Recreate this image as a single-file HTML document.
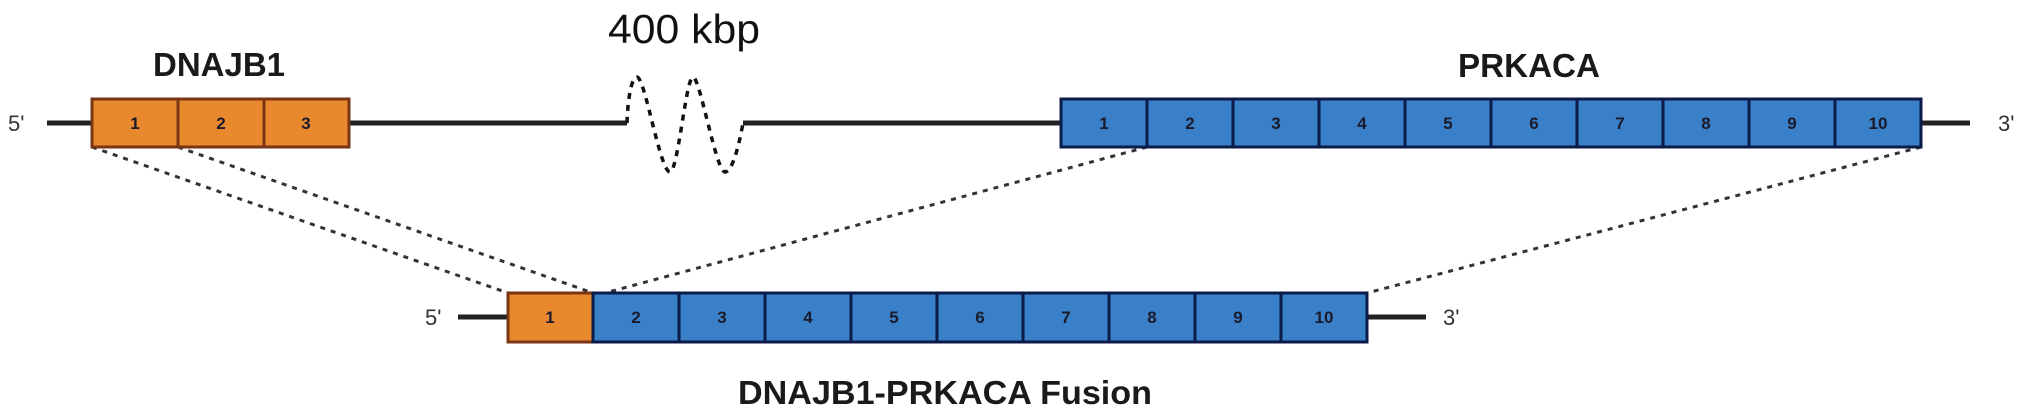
<!DOCTYPE html>
<html><head><meta charset="utf-8"><style>
html,body{margin:0;padding:0;background:#fff;width:2025px;height:416px;overflow:hidden}
svg{display:block}
.n{font-family:"Liberation Sans Narrow","Liberation Sans",sans-serif;font-size:17px;fill:#1a1a2a;text-anchor:middle;font-weight:bold}
.lbl{font-family:"Liberation Sans Narrow","Liberation Sans",sans-serif;font-weight:bold;font-size:33px;fill:#1a1a1a}
.end{font-family:"Liberation Sans",sans-serif;font-size:22px;fill:#333}
</style></head><body>
<svg width="2025" height="416" viewBox="0 0 2025 416" xmlns="http://www.w3.org/2000/svg">
<g stroke="#222" stroke-width="5" fill="none">
<line x1="47" y1="123" x2="92" y2="123"/>
<line x1="349" y1="123" x2="627" y2="123"/>
<line x1="743" y1="123" x2="1061" y2="123"/>
<line x1="1921" y1="123" x2="1970" y2="123"/>
<line x1="458" y1="317" x2="508" y2="317"/>
<line x1="1367" y1="317" x2="1426" y2="317"/>
</g>
<path d="M627,123 C628,95 632,77 637,77 C645,77 660,172 670,172 C678,172 686,77 693,77 C700,77 716,172 725,172 C733,172 740,140 743,123" stroke="#111" stroke-width="3.5" fill="none" stroke-dasharray="6,6"/>
<g stroke="#333" stroke-width="3" stroke-dasharray="5,6" fill="none">
<line x1="92" y1="147" x2="508" y2="293"/>
<line x1="178" y1="147" x2="593" y2="293"/>
<line x1="1147" y1="147" x2="605" y2="293"/>
<line x1="1921" y1="147" x2="1367" y2="293"/>
</g>
<!-- DNAJB1 -->
<g stroke="#7a3514" stroke-width="3" fill="#e8892e">
<rect x="92" y="99" width="86" height="48"/>
<rect x="178" y="99" width="86" height="48"/>
<rect x="264" y="99" width="85" height="48"/>
</g>
<text class="n" x="135" y="129">1</text><text class="n" x="221" y="129">2</text><text class="n" x="306" y="129">3</text>
<!-- PRKACA -->
<g stroke="#0d1b4a" stroke-width="3" fill="#3a80c8">
<rect x="1061" y="99" width="86" height="48"/><rect x="1147" y="99" width="86" height="48"/>
<rect x="1233" y="99" width="86" height="48"/><rect x="1319" y="99" width="86" height="48"/>
<rect x="1405" y="99" width="86" height="48"/><rect x="1491" y="99" width="86" height="48"/>
<rect x="1577" y="99" width="86" height="48"/><rect x="1663" y="99" width="86" height="48"/>
<rect x="1749" y="99" width="86" height="48"/><rect x="1835" y="99" width="86" height="48"/>
</g>
<g>
<text class="n" x="1104" y="129">1</text><text class="n" x="1190" y="129">2</text><text class="n" x="1276" y="129">3</text>
<text class="n" x="1362" y="129">4</text><text class="n" x="1448" y="129">5</text><text class="n" x="1534" y="129">6</text>
<text class="n" x="1620" y="129">7</text><text class="n" x="1706" y="129">8</text><text class="n" x="1792" y="129">9</text>
<text class="n" x="1878" y="129">10</text>
</g>
<!-- Fusion -->
<rect x="508" y="293" width="85" height="49" stroke="#7a3514" stroke-width="3" fill="#e8892e"/>
<g stroke="#0d1b4a" stroke-width="3" fill="#3a80c8">
<rect x="593" y="293" width="86" height="49"/><rect x="679" y="293" width="86" height="49"/>
<rect x="765" y="293" width="86" height="49"/><rect x="851" y="293" width="86" height="49"/>
<rect x="937" y="293" width="86" height="49"/><rect x="1023" y="293" width="86" height="49"/>
<rect x="1109" y="293" width="86" height="49"/><rect x="1195" y="293" width="86" height="49"/>
<rect x="1281" y="293" width="86" height="49"/>
</g>
<g>
<text class="n" x="550" y="323">1</text><text class="n" x="636" y="323">2</text><text class="n" x="722" y="323">3</text>
<text class="n" x="808" y="323">4</text><text class="n" x="894" y="323">5</text><text class="n" x="980" y="323">6</text>
<text class="n" x="1066" y="323">7</text><text class="n" x="1152" y="323">8</text><text class="n" x="1238" y="323">9</text>
<text class="n" x="1324" y="323">10</text>
</g>
<text class="end" x="8" y="131">5'</text>
<text class="end" x="1998" y="131">3'</text>
<text class="end" x="425" y="325">5'</text>
<text class="end" x="1443" y="325">3'</text>
<text class="lbl" x="153" y="76" textLength="132" lengthAdjust="spacingAndGlyphs">DNAJB1</text>
<text class="lbl" x="1458" y="77" textLength="142" lengthAdjust="spacingAndGlyphs">PRKACA</text>
<text class="lbl" x="738" y="404" textLength="414" lengthAdjust="spacingAndGlyphs">DNAJB1-PRKACA Fusion</text>
<text x="608" y="43" font-family="Liberation Sans,sans-serif" font-size="41" fill="#111" textLength="152" lengthAdjust="spacingAndGlyphs">400 kbp</text>
</svg>
</body></html>
